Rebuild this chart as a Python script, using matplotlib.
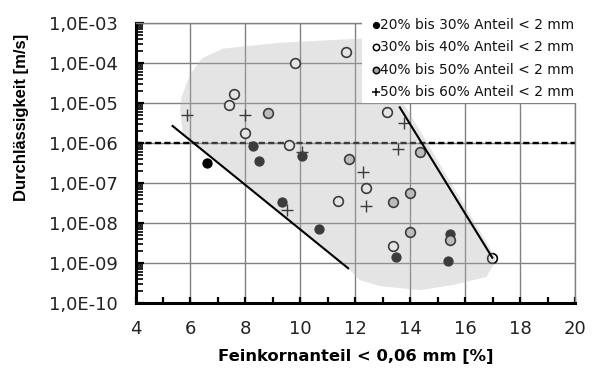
import matplotlib
matplotlib.use('Agg')
import matplotlib.pyplot as plt
from matplotlib.patches import Polygon, Rectangle
from matplotlib.lines import Line2D
from matplotlib.ticker import LogLocator, NullFormatter

plt.rcParams['font.family'] = ['DejaVu Sans']

# ---- data ----
x_20_30 = [6.59, 8.28, 8.49, 10.07, 9.32, 10.68, 13.47, 15.46, 15.37]
y_20_30 = [3.2e-7, 8.4e-7, 3.6e-7, 4.6e-7, 3.4e-8, 7.1e-9, 1.4e-9, 5.3e-9, 1.15e-9]

x_30_40 = [7.59, 7.39, 7.99, 9.80, 11.68, 13.17, 9.59, 12.38, 11.39, 13.37, 16.99]
y_30_40 = [1.68e-5, 8.7e-6, 1.75e-6, 1.02e-4, 1.9e-4, 6.0e-6, 8.9e-7, 7.4e-8, 3.55e-8, 2.66e-9, 1.36e-9]

x_40_50 = [8.81, 14.37, 11.78, 13.98, 13.37, 13.98, 15.46]
y_40_50 = [5.7e-6, 6.0e-7, 3.9e-7, 5.7e-8, 3.3e-8, 6.0e-9, 3.8e-9]

x_50_60 = [5.88, 7.99, 13.76, 10.07, 13.56, 12.29, 12.38, 9.52]
y_50_60 = [4.9e-6, 5.0e-6, 3.1e-6, 5.8e-7, 7.0e-7, 1.85e-7, 2.6e-8, 2.1e-8]

legend_labels = ['20% bis 30% Anteil < 2 mm', '30% bis 40% Anteil < 2 mm',
                 '40% bis 50% Anteil < 2 mm', '50% bis 60% Anteil < 2 mm']

line1_x = [5.35, 11.74]
line1_y = [2.66e-6, 7.4e-10]
line2_x = [13.62, 16.99]
line2_y = [7.8e-6, 1.36e-9]
threshold = 1e-6

region_x = [6.41, 7.2, 9.25, 12.27, 13.75, 13.75, 17.1, 17.07, 16.78, 15.55, 14.35,
            12.89, 12.16, 11.8, 11.74, 5.98, 5.73, 5.62, 5.68, 5.98]
region_y = [1.3e-4, 2.3e-4, 3.2e-4, 4.1e-4, 4.5e-4, 1e-5, 1.4e-9, 9.8e-10, 4.5e-10, 2.8e-10, 2.1e-10,
            2.65e-10, 3.75e-10, 6.7e-10, 7.4e-10, 1.2e-6, 1.6e-6, 6.7e-6, 1.45e-5, 5e-5]

xticks = [4, 6, 8, 10, 12, 14, 16, 18, 20]
yticks = [1e-10, 1e-9, 1e-8, 1e-7, 1e-6, 1e-5, 1e-4, 1e-3]
ytick_labels = ['1,0E-10', '1,0E-09', '1,0E-08', '1,0E-07', '1,0E-06', '1,0E-05', '1,0E-04', '1,0E-03']

# ---- figure ----
fig = plt.figure(figsize=(6.01, 3.72), dpi=100)
ax = fig.add_axes([0.2255, 0.1855, 0.7312, 0.7527])
ax.set_yscale('log')
ax.set_xlim(4, 20)
ax.set_ylim(1e-10, 1e-3)

ax.set_axisbelow(True)
ax.grid(True, which='major', color='#808080', lw=1.0)

ax.axhline(threshold, color='black', lw=1.7, linestyle=(0, (2.6, 1.4)), zorder=1.5)

ax.plot(x_20_30, y_20_30, 'o', ms=6.6, mfc='black', mec='black', mew=0.8, zorder=2)
ax.plot(x_30_40, y_30_40, 'o', ms=7.0, mfc='white', mec='black', mew=1.2, zorder=2)
ax.plot(x_40_50, y_40_50, 'o', ms=7.0, mfc='#c0c0c0', mec='black', mew=1.2, zorder=2)
ax.plot(x_50_60, y_50_60, '+', ms=9.0, mec='black', mew=1.0, zorder=2)

ax.add_patch(Polygon(list(zip(region_x, region_y)), closed=True, facecolor='#b2b2b2',
                     edgecolor='none', alpha=0.34, zorder=3))

ax.plot(line1_x, line1_y, color='black', lw=1.5, zorder=4)
ax.plot(line2_x, line2_y, color='black', lw=1.5, zorder=4)

# ticks
ax.set_xticks(xticks)
ax.set_xticks(range(5, 20, 2), minor=True)
ax.set_yticks(yticks)
ax.set_yticklabels(ytick_labels)
ax.yaxis.set_minor_locator(LogLocator(base=10, subs=range(2, 10), numticks=20))
ax.yaxis.set_minor_formatter(NullFormatter())
ax.tick_params(axis='both', which='both', direction='in', top=False, right=False,
               labelsize=13, colors='black')
ax.tick_params(axis='y', which='major', length=6, width=1.6, pad=13)
ax.tick_params(axis='y', which='minor', length=5, width=1.2)
ax.tick_params(axis='x', which='major', length=4, width=1.6, pad=12)
ax.tick_params(axis='x', which='minor', length=4, width=1.6)
for lab in ax.get_xticklabels() + ax.get_yticklabels():
    lab.set_color('#222222')

ax.spines['left'].set_linewidth(2.2)
ax.spines['bottom'].set_linewidth(2.2)
ax.spines['top'].set_color('#808080')
ax.spines['top'].set_linewidth(1.0)
ax.spines['right'].set_color('#808080')
ax.spines['right'].set_linewidth(1.0)

ax.set_xlabel('Feinkornanteil < 0,06 mm [%]', fontsize=11.8, fontweight='bold', labelpad=8)
fig.text(22 / 601, 1 - 117 / 372, 'Durchlässigkeit [m/s]', rotation=90,
         ha='center', va='center', fontsize=12, fontweight='bold',
         family=['Liberation Sans', 'DejaVu Sans'])

# ---- legend (white box over plot) ----
W, H = 601.0, 372.0
fig.add_artist(Rectangle((362 / W, 1 - 103 / H), 239 / W, 103 / H, transform=fig.transFigure,
                         facecolor='white', edgecolor='none', zorder=10))
leg_rows = [25, 47, 70, 92]
leg_styles = [dict(marker='o', ms=4.4, mfc='black', mec='black', mew=0.8),
              dict(marker='o', ms=4.6, mfc='white', mec='black', mew=1.1),
              dict(marker='o', ms=4.6, mfc='#a8a8a8', mec='black', mew=1.1),
              dict(marker='+', ms=6.0, mec='black', mew=1.1)]
for row, style, lab in zip(leg_rows, leg_styles, legend_labels):
    yy = 1 - row / H
    fig.add_artist(Line2D([376 / W], [yy], transform=fig.transFigure, linestyle='none',
                          zorder=11, **style))
    fig.text(380 / W, yy, lab, ha='left', va='center', fontsize=9.9, color='#111111', zorder=11)

fig.savefig('out.png', dpi=100)
